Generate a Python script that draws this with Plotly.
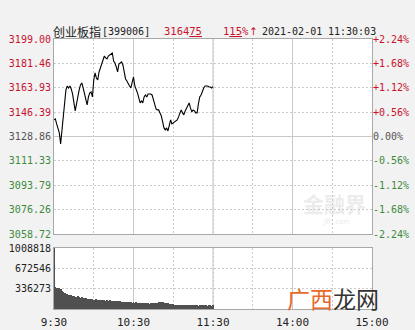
import plotly.graph_objects as go

# ---------------- data ----------------
minutes = list(range(0, 121))  # minutes since 9:30
price = [
    3140.79, 3141.51, 3137.91, 3134.32, 3131.45, 3123.54, 3132.88, 3142.23, 3154.44, 3162.35,
    3165.22, 3163.79, 3165.22, 3163.07, 3159.47, 3152.29, 3147.26, 3152.29, 3158.76, 3162.35,
    3165.94, 3167.38, 3163.79, 3158.76, 3153.73, 3151.57, 3157.32, 3160.19, 3160.91, 3157.32,
    3169.54, 3174.57, 3170.97, 3169.54, 3175.29, 3178.16, 3181.75, 3184.63, 3186.78, 3185.35,
    3184.63, 3186.78, 3187.50, 3188.22, 3188.94, 3183.19, 3181.75, 3178.88, 3175.29, 3181.03,
    3181.75, 3182.47, 3180.31, 3176.00, 3170.25, 3168.82, 3166.66, 3165.22, 3163.79, 3168.10,
    3171.69, 3165.22, 3163.07, 3160.19, 3156.60, 3153.01, 3154.44, 3153.01, 3157.32, 3158.76,
    3157.32, 3159.47, 3159.47, 3159.47, 3158.76, 3155.16, 3150.85, 3148.69, 3147.98, 3147.98,
    3145.82, 3143.66, 3139.35, 3135.04, 3133.60, 3135.04, 3132.88, 3136.48, 3140.79, 3137.91,
    3138.63, 3139.35, 3140.07, 3140.79, 3142.95, 3145.82, 3147.98, 3145.82, 3144.38, 3147.26,
    3149.41, 3151.57, 3153.01, 3149.41, 3146.54, 3147.98, 3147.26, 3145.82, 3145.82, 3152.29,
    3157.32, 3158.76, 3161.63, 3163.79, 3165.22, 3165.22, 3165.22, 3164.50, 3164.50, 3163.79,
    3164.75,
]
volume = [
    1008818, 362000, 340000, 328000, 352000, 338000, 300000, 285000, 268000, 255000,
    245000, 232000, 228000, 236000, 222000, 215000, 205000, 198000, 210000, 195000,
    188000, 192000, 180000, 175000, 184000, 170000, 165000, 160000, 168000, 158000,
    155000, 150000, 158000, 148000, 152000, 145000, 150000, 140000, 146000, 138000,
    142000, 135000, 148000, 140000, 132000, 128000, 135000, 125000, 130000, 120000,
    126000, 118000, 122000, 115000, 120000, 112000, 118000, 110000, 115000, 105000,
    112000, 100000, 108000, 98000, 104000, 96000, 102000, 95000, 100000, 92000,
    98000, 94000, 90000, 96000, 88000, 92000, 95000, 100000, 105000, 110000,
    115000, 108000, 112000, 104000, 98000, 100000, 92000, 88000, 84000, 80000,
    76000, 72000, 74000, 70000, 68000, 72000, 66000, 70000, 64000, 68000,
    66000, 62000, 65000, 60000, 64000, 62000, 58000, 62000, 60000, 57000,
    61000, 58000, 63000, 59000, 56000, 60000, 57000, 62000, 58000, 55000,
    60000,
]
price_ticks = [3199.00, 3181.46, 3163.93, 3146.39, 3128.86, 3111.33, 3093.79, 3076.26, 3058.72]
pct_labels = ["+2.24%", "+1.68%", "+1.12%", "+0.56%", "0.00%", "-0.56%", "-1.12%", "-1.68%", "-2.24%"]
prev_close = 3128.86
vol_ticks = [0, 336273, 672546, 1008818]
vol_labels = ["", "336273", "672546", "1008818"]
time_ticks = [0, 30, 60, 90, 120, 150, 180, 210, 240]
time_labels = ["9:30", "", "10:30", "", "11:30", "", "14:00", "", "15:00"]
solid_times = [60, 120, 180]

# ---------------- style ----------------
RED = "#c8132f"
GREEN = "#3d8b3d"
GRAY = "#555555"
W, H = 415, 330
MONO = "DejaVu Sans Mono"
CJK = "Noto Sans CJK SC"

def col(v):
    if v > prev_close + 0.001:
        return RED
    if v < prev_close - 0.001:
        return GREEN
    return GRAY

left_text = ['<span style="color:%s">%.2f</span>' % (col(v), v) for v in price_ticks]
right_text = ['<span style="color:%s">%s</span>' % (col(v), t) for v, t in zip(price_ticks, pct_labels)]

xdom = [54 / W, 372 / W]
ydom_main = [1 - 234 / H, 1 - 39 / H]
ydom_vol = [1 - 309 / H, 1 - 248 / H]

fig = go.Figure()
fig.add_trace(go.Scatter(x=minutes, y=price, mode="lines",
                         line=dict(color="#000000", width=1.1),
                         xaxis="x", yaxis="y", showlegend=False, hoverinfo="skip"))
fig.add_trace(go.Scatter(x=minutes, y=price, mode="lines", opacity=0,
                         line=dict(width=0), xaxis="x", yaxis="y2",
                         showlegend=False, hoverinfo="skip"))
fig.add_trace(go.Bar(x=minutes, y=volume, width=0.72,
                     marker=dict(color="#505050", line=dict(width=0)),
                     xaxis="x2", yaxis="y3", showlegend=False, hoverinfo="skip"))

grid = dict(showgrid=True, gridcolor="#cccccc", griddash="2px,2px", gridwidth=1,
            zeroline=False, showline=True, mirror=True, linecolor="#a8a8a8", linewidth=1,
            ticks="", automargin=False)
tickfont = dict(family=MONO, size=10, color="#222222")

fig.update_layout(
    width=W, height=H,
    margin=dict(l=0, r=0, t=0, b=0, pad=0, autoexpand=False),
    paper_bgcolor="#f2f2f2",
    plot_bgcolor="#ffffff",
    bargap=0,
    showlegend=False,
    xaxis=dict(domain=xdom, range=[0, 240], anchor="y", tickvals=time_ticks,
               showticklabels=False, **grid),
    yaxis=dict(domain=ydom_main, range=[price_ticks[-1], price_ticks[0]], anchor="x",
               tickvals=price_ticks, ticktext=left_text, tickfont=tickfont, **grid),
    yaxis2=dict(overlaying="y", side="right", anchor="x",
                range=[price_ticks[-1], price_ticks[0]], tickvals=price_ticks,
                ticktext=right_text, tickfont=tickfont, showgrid=False,
                zeroline=False, showline=False, ticks="", automargin=False),
    xaxis2=dict(domain=xdom, range=[0, 240], anchor="y3", tickvals=time_ticks,
                ticktext=time_labels, tickfont=dict(family=MONO, size=11, color="#222222"),
                ticklabelstandoff=3, **grid),
    yaxis3=dict(domain=ydom_vol, range=[0, vol_ticks[-1]], anchor="x2",
                tickvals=vol_ticks, ticktext=vol_labels, tickfont=tickfont, **grid),
)

shapes = []
for t in solid_times:
    for xr, yr in (("x", "y domain"), ("x2", "y3 domain")):
        shapes.append(dict(type="line", xref=xr, yref=yr, x0=t, x1=t, y0=0, y1=1,
                           line=dict(color="#c4c4c4", width=1), layer="below"))
shapes.append(dict(type="line", xref="x domain", yref="y", x0=0, x1=1,
                   y0=prev_close, y1=prev_close,
                   line=dict(color="#c4c4c4", width=1), layer="below"))
fig.update_layout(shapes=shapes)

def ann(px, py, text, size=10, color="#222222", family=MONO, xanchor="left", opacity=1):
    fig.add_annotation(x=px / W, y=1 - py / H, xref="paper", yref="paper",
                       text=text, showarrow=False, xanchor=xanchor, yanchor="middle",
                       font=dict(family=family, size=size, color=color), opacity=opacity,
                       borderpad=0)

ann(52, 31, "创业板指", size=12, family=CJK)
ann(101, 31, "[399006]", size=10)
ann(163, 31, '3164<span style="text-decoration:underline">75</span>', size=10.5, color=RED)
ann(222, 31, '1<span style="text-decoration:underline">15</span>%', size=10.5, color=RED)
ann(248, 31, "↑", size=10.5, color=RED, family="DejaVu Sans")
ann(261, 31, "2021-02-01", size=10)
ann(327, 31, "11:30:03", size=10)

# watermarks
ann(334, 203, "<b>金融界</b>", size=21, color="rgba(190,190,190,0.3)", family=CJK, xanchor="center")
ann(336, 222, "JRJ.com", size=7, color="rgba(190,190,190,0.35)", family="DejaVu Sans", xanchor="center")
ann(333, 298, '<span style="color:#e8692a">广西</span>龙网', size=23, color="#333333",
    family=CJK, xanchor="center")

fig.write_html("out.html")
